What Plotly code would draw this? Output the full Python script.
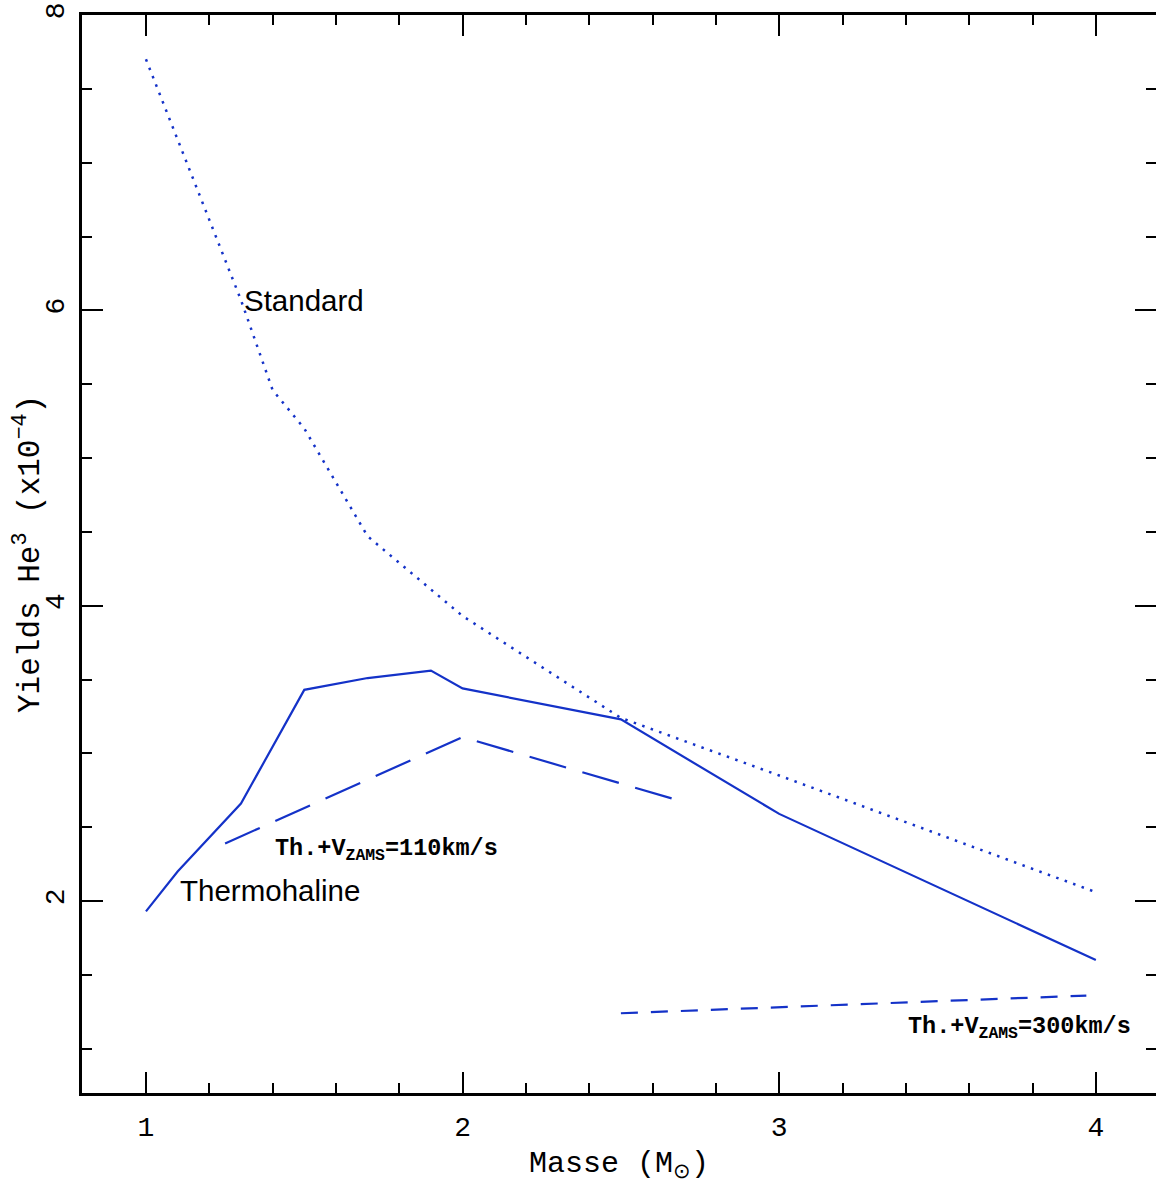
import plotly.graph_objects as go

# Data
std_x = [1.0, 1.1, 1.2, 1.3, 1.4, 1.5, 1.7, 2.0, 2.5, 3.0, 4.0]
std_y = [7.70, 7.16, 6.62, 6.07, 5.46, 5.20, 4.47, 3.93, 3.24, 2.85, 2.06]

th_x = [1.0, 1.1, 1.3, 1.5, 1.7, 1.9, 2.0, 2.5, 3.0, 4.0]
th_y = [1.93, 2.20, 2.66, 3.43, 3.51, 3.56, 3.44, 3.23, 2.59, 1.60]

v110_x = [1.25, 2.0, 2.7]
v110_y = [2.39, 3.11, 2.67]

v300_x = [2.5, 3.97]
v300_y = [1.24, 1.36]

labels = ["Standard", "Thermohaline",
          "Th.+V<sub>ZAMS</sub>=110km/s", "Th.+V<sub>ZAMS</sub>=300km/s"]
label_x = [1.303, 1.10, 1.40, 3.40]
label_y = [6.07, 2.07, 2.345, 1.14]

x_ticks = [1, 2, 3, 4]
y_ticks = [2, 4, 6, 8]

XR = [0.798, 4.19]
YR = [0.7, 8.0]

BLUE = "#1432c8"

fig = go.Figure()
fig.add_trace(go.Scatter(x=std_x, y=std_y, mode="lines",
                         line=dict(color=BLUE, width=2.5, dash="2.5px,6.5px")))
fig.add_trace(go.Scatter(x=th_x, y=th_y, mode="lines",
                         line=dict(color=BLUE, width=2.2)))
fig.add_trace(go.Scatter(x=v110_x, y=v110_y, mode="lines",
                         line=dict(color=BLUE, width=2.2, dash="38px,17px")))
fig.add_trace(go.Scatter(x=v300_x, y=v300_y, mode="lines",
                         line=dict(color=BLUE, width=2.2, dash="17px,13px")))
# invisible traces so the mirror axes (top / right) are drawn
fig.add_trace(go.Scatter(x=[None], y=[None], xaxis="x2", yaxis="y", showlegend=False))
fig.add_trace(go.Scatter(x=[None], y=[None], xaxis="x", yaxis="y2", showlegend=False))

sans = "Liberation Sans"
mono = "Liberation Mono"
for i, t in enumerate(labels):
    if i < 2:
        f = dict(family=sans, size=29.5, color="black")
    else:
        f = dict(family=mono, size=23.5, color="black", weight="bold")
    fig.add_annotation(x=label_x[i], y=label_y[i], xref="x", yref="y",
                       text=t, showarrow=False, xanchor="left", yanchor="middle",
                       font=f)

# y axis title as a rotated annotation (placed close to the axis like the reference)
fig.add_annotation(x=0, y=0.5, xref="paper", yref="paper", xshift=-54,
                   text="Yields He<sup>3</sup> (x10<sup>−4</sup>)", textangle=-90,
                   showarrow=False, xanchor="center", yanchor="middle",
                   font=dict(family=mono, size=31, color="black"))

tick_common = dict(ticks="inside", ticklen=21, tickwidth=2.2, tickcolor="black",
                   showgrid=False, zeroline=False)

fig.update_layout(
    width=1156, height=1193,
    margin=dict(l=82, r=0, t=15, b=100),
    paper_bgcolor="white", plot_bgcolor="white",
    showlegend=False,
    xaxis=dict(range=XR, tickvals=x_ticks, ticktext=[str(v) for v in x_ticks],
               showline=True, linewidth=2.5, linecolor="black", mirror=True,
               minor=dict(dtick=0.2, tick0=0, ticks="inside", ticklen=10,
                          tickwidth=2, tickcolor="black", showgrid=False),
               tickfont=dict(family=mono, size=28, color="black"),
               ticklabelstandoff=7,
               title=dict(text="Masse (M<sub>⊙</sub>)",
                          font=dict(family=mono, size=30, color="black"),
                          standoff=8),
               **tick_common),
    xaxis2=dict(range=XR, overlaying="x", side="top", anchor="y",
                tickvals=x_ticks, showticklabels=False, showline=False,
                minor=dict(dtick=0.2, tick0=0, ticks="inside", ticklen=10,
                           tickwidth=2, tickcolor="black", showgrid=False),
                **tick_common),
    yaxis=dict(range=YR, tickvals=y_ticks, ticktext=[str(v) for v in y_ticks],
               showline=True, linewidth=2.5, linecolor="black", mirror=False,
               tickangle=-90,
               minor=dict(dtick=0.5, tick0=0, ticks="inside", ticklen=10,
                          tickwidth=2, tickcolor="black", showgrid=False),
               tickfont=dict(family=mono, size=28, color="black"),
               ticklabelstandoff=4,
               **tick_common),
    yaxis2=dict(range=YR, overlaying="y", side="right", anchor="x",
                tickvals=y_ticks, showticklabels=False, showline=False,
                minor=dict(dtick=0.5, tick0=0, ticks="inside", ticklen=10,
                           tickwidth=2, tickcolor="black", showgrid=False),
                **tick_common),
)

fig.write_html("out.html", config={"displayModeBar": False},
               post_script="document.body.style.margin='0';"
                           "document.body.style.overflow='hidden';")
